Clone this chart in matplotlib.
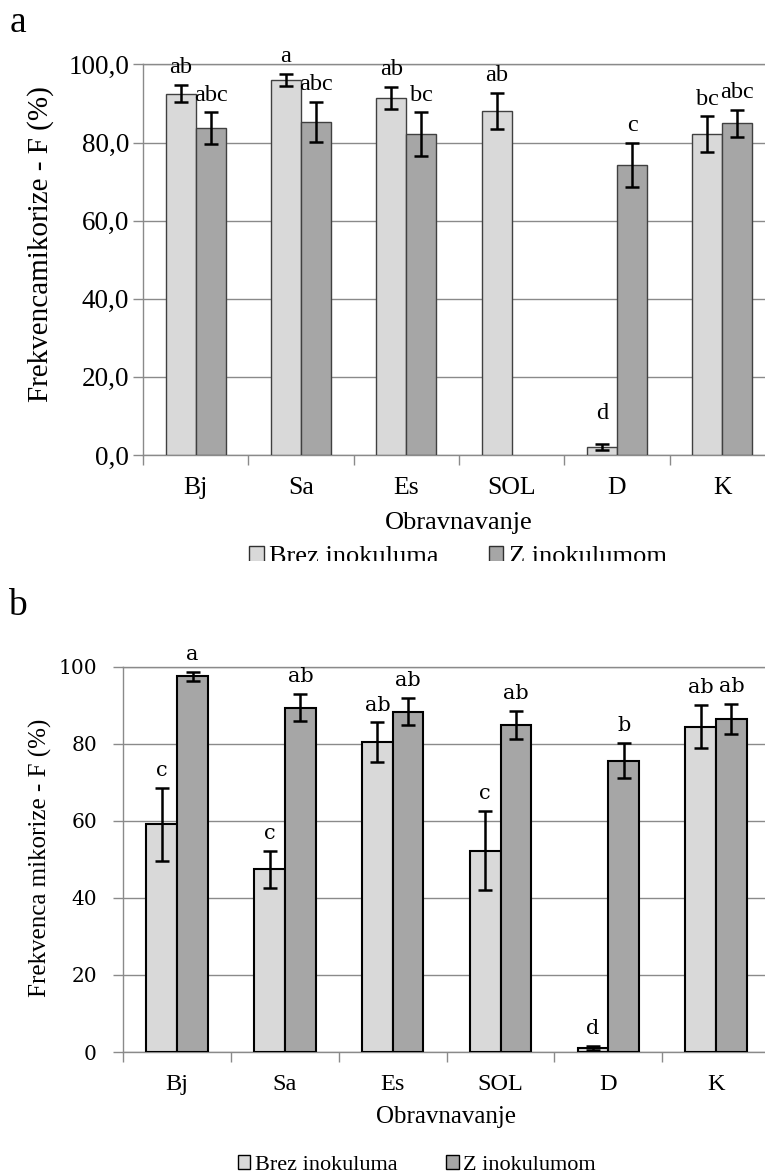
import numpy as np
import matplotlib
matplotlib.use("Agg")
import matplotlib.pyplot as plt
from matplotlib.patches import Patch, Rectangle

# ---- data ----
categories = ["Bj", "Sa", "Es", "SOL", "D", "K"]
series_names = ["Brez inokuluma", "Z inokulumom"]

# panel a
a_brez = [92.5, 96.0, 91.5, 88.1, 2.0, 82.1]
a_brez_err = [2.2, 1.5, 2.8, 4.7, 0.8, 4.6]
a_z = [83.7, 85.3, 82.1, np.nan, 74.3, 84.9]
a_z_err = [4.0, 5.1, 5.6, np.nan, 5.7, 3.5]
a_brez_lab = ["ab", "a", "ab", "ab", "d", "bc"]
a_z_lab = ["abc", "abc", "bc", "", "c", "abc"]

# panel b
b_brez = [59.1, 47.4, 80.4, 52.2, 1.0, 84.4]
b_brez_err = [9.5, 4.8, 5.1, 10.3, 0.5, 5.6]
b_z = [97.5, 89.3, 88.3, 84.8, 75.6, 86.3]
b_z_err = [1.2, 3.5, 3.5, 3.7, 4.6, 3.9]
b_brez_lab = ["c", "c", "ab", "c", "d", "ab"]
b_z_lab = ["a", "ab", "ab", "ab", "b", "ab"]

W, H = 765, 1176
fig = plt.figure(figsize=(W / 100, H / 100), dpi=100)


def fx(x):
    return x / W


def fy(y):
    return 1 - y / H


LIGHT = "#d9d9d9"
DARK = "#a6a6a6"
GRID = "#8a8a8a"
SERIF = "Liberation Serif"


def panel(rect, brez, brez_err, z, z_err, brez_lab, z_lab, ylabels, tick_font,
          tick_size, letter_font, letter_size, xt_size, edge, elw, ytick_pad, d_floor):
    ax = fig.add_axes(rect)
    x = np.arange(len(categories))
    w = 0.285
    ax.bar(x - w / 2, brez, w, color=LIGHT, edgecolor=edge, linewidth=elw, zorder=3)
    ax.bar(x + w / 2, z, w, color=DARK, edgecolor=edge, linewidth=elw, zorder=3)
    ax.errorbar(x - w / 2, brez, yerr=brez_err, fmt="none", ecolor="black",
                elinewidth=1.8, capsize=5, capthick=1.8, zorder=4)
    ax.errorbar(x + w / 2, z, yerr=z_err, fmt="none", ecolor="black",
                elinewidth=1.8, capsize=5, capthick=1.8, zorder=4)
    for xs, vals, errs, labs in [(x - w / 2, brez, brez_err, brez_lab),
                                 (x + w / 2, z, z_err, z_lab)]:
        for xi, v, e, lab in zip(xs, vals, errs, labs):
            if not lab:
                continue
            top = max(v + e, d_floor) if lab == "d" else v + e
            ax.annotate(lab, (xi, top), xytext=(0, 8.5), textcoords="offset points",
                        ha="center", va="baseline", family=letter_font,
                        fontsize=letter_size, zorder=5)

    ax.set_xlim(-0.5, 5.5)
    ax.set_ylim(0, 100)
    ax.set_yticks(np.arange(0, 101, 20), labels=ylabels, family=tick_font,
                  fontsize=tick_size)
    ax.set_xticks(x, labels=categories, family=SERIF, fontsize=xt_size)
    ax.set_xticks(np.arange(-0.5, 6), minor=True)
    ax.tick_params(axis="x", which="major", length=0, pad=16)
    ax.tick_params(axis="x", which="minor", length=7, color=GRID, width=1)
    ax.tick_params(axis="y", length=7, color=GRID, width=1, pad=ytick_pad)
    ax.yaxis.grid(True, color=GRID, linewidth=1, zorder=0)
    ax.set_axisbelow(True)
    for s in ax.spines.values():
        s.set_color(GRID)
        s.set_linewidth(1)
    return ax


# ---- panel a ----
panel([fx(143), fy(455), (775 - 143) / W, (455 - 64.4) / H],
      a_brez, a_brez_err, a_z, a_z_err, a_brez_lab, a_z_lab,
      [f"{v:.1f}".replace(".", ",") for v in range(0, 101, 20)],
      SERIF, 19.5, SERIF, 17.5, 18.5, "#404040", 1.0, 3, 6.2)

fig.text(fx(41), fy(244), "Frekvencamikorize - F (%)", rotation=90, ha="center",
         va="center", family=SERIF, fontsize=21)
fig.text(fx(459), fy(523), "Obravnavanje", ha="center", va="center",
         family=SERIF, fontsize=19)
fig.text(fx(10), fy(32), "a", ha="left", va="baseline", family=SERIF, fontsize=27)
fig.legend(handles=[Patch(facecolor=LIGHT, edgecolor="#303030", label=series_names[0]),
                    Patch(facecolor=DARK, edgecolor="#303030", label=series_names[1])],
           loc="center", bbox_to_anchor=(fx(458), fy(557)), ncol=2, frameon=False,
           prop={"family": SERIF, "size": 19}, handlelength=0.55, handleheight=0.55,
           handletextpad=0.2, columnspacing=1.9, borderpad=0)
# panel a was cropped just under the legend text
fig.patches.append(Rectangle((0, fy(584)), 1, (584 - 561) / H,
                             transform=fig.transFigure, facecolor="white",
                             edgecolor="none", zorder=10))

# ---- panel b ----
panel([fx(123.3), fy(1052), (770 - 123.3) / W, (1052 - 666.5) / H],
      b_brez, b_brez_err, b_z, b_z_err, b_brez_lab, b_z_lab,
      [str(v) for v in range(0, 101, 20)],
      "DejaVu Serif", 14.5, "DejaVu Serif", 15, 17.5, "black", 1.5, 12, 0)

fig.text(fx(40), fy(858), "Frekvenca mikorize - F (%)", rotation=90, ha="center",
         va="center", family=SERIF, fontsize=18)
fig.text(fx(446), fy(1117), "Obravnavanje", ha="center", va="center",
         family=SERIF, fontsize=18)
fig.text(fx(8), fy(615), "b", ha="left", va="baseline", family=SERIF, fontsize=27)
fig.legend(handles=[Patch(facecolor=LIGHT, edgecolor="black", label=series_names[0]),
                    Patch(facecolor=DARK, edgecolor="black", label=series_names[1])],
           loc="center", bbox_to_anchor=(fx(417), fy(1165)), ncol=2, frameon=False,
           prop={"family": SERIF, "size": 16}, handlelength=0.55, handleheight=0.55,
           handletextpad=0.2, columnspacing=2.2, borderpad=0)

fig.savefig("out.png", dpi=100, facecolor="white")
